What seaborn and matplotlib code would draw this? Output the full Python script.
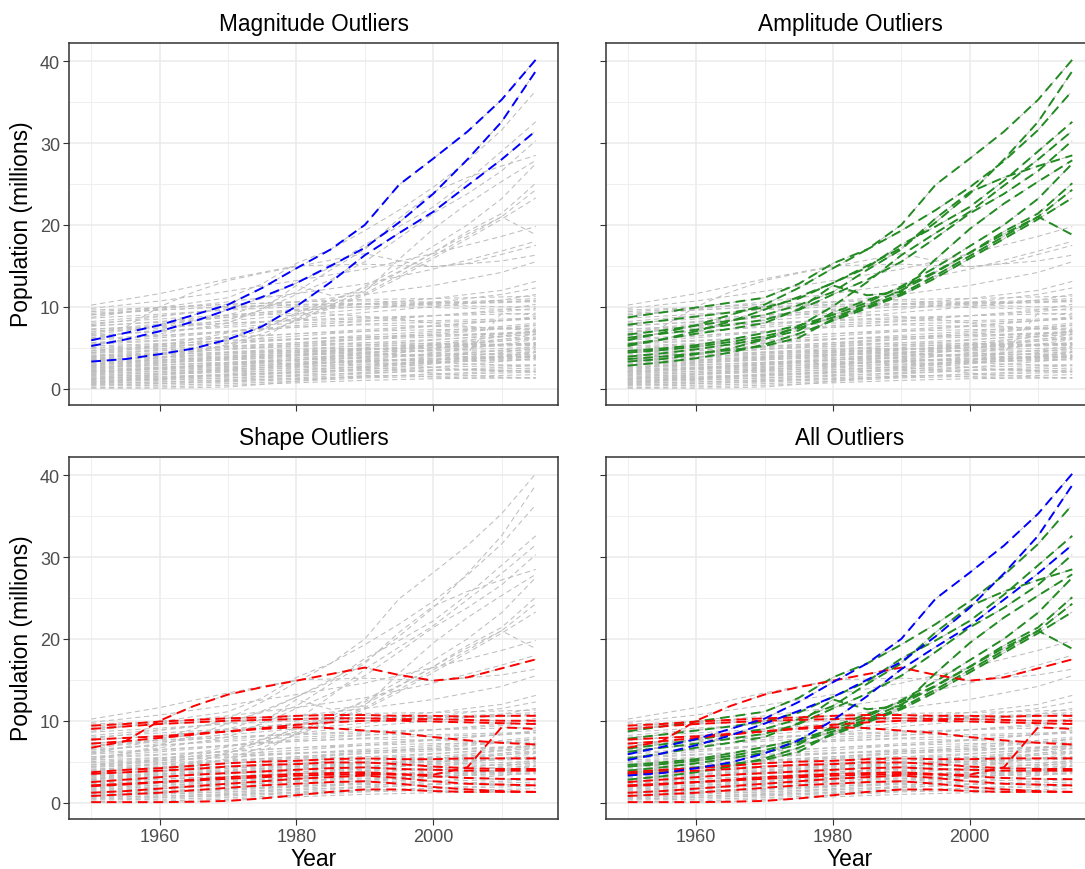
import matplotlib
matplotlib.use("Agg")
import matplotlib.pyplot as plt
from matplotlib.ticker import MultipleLocator, NullFormatter
import pandas as pd
import seaborn as sns

sns.set_theme(style="white")
plt.rcParams["font.family"] = ["Liberation Sans", "DejaVu Sans"]

# Sampling years: background series are stored at decade points,
# flagged series at five-year points.
coarse_years = [1950, 1960, 1970, 1980, 1990, 2000, 2010, 2015]
fine_years = [1950, 1955, 1960, 1965, 1970, 1975, 1980, 1985,
              1990, 1995, 2000, 2005, 2010, 2015]

# Population (millions) of series that are not flagged.
upper_grey = [
    [10.2, 11.6, 13.4, 15.0, 15.2, 14.9, 15.6, 16.3],
    [9.8, 10.7, 11.9, 13.2, 14.6, 16.5, 18.6, 19.8],
    [9.0, 9.7, 10.6, 11.6, 12.8, 14.6, 16.8, 18.0],
    [8.2, 8.9, 9.7, 10.6, 11.5, 12.6, 14.2, 15.5],
    [7.6, 8.2, 8.9, 9.7, 10.3, 11.0, 12.0, 13.1],
    [7.0, 7.6, 8.3, 9.0, 9.7, 10.5, 11.5, 12.3],
    [6.4, 7.0, 7.7, 8.5, 9.3, 10.0, 10.8, 11.5],
]
middle_grey = [
    [9.6, 9.9, 10.3, 10.6, 10.9, 11.0, 11.2, 11.3],
    [9.2, 9.6, 10.0, 10.3, 10.4, 10.5, 10.8, 11.0],
    [8.6, 9.1, 9.6, 10.0, 10.3, 10.4, 10.6, 10.8],
    [8.0, 8.5, 9.0, 9.6, 10.0, 10.3, 10.5, 10.7],
    [7.3, 7.6, 8.0, 8.3, 8.5, 8.9, 9.4, 9.8],
    [6.9, 7.4, 8.0, 8.4, 8.7, 8.9, 9.1, 9.2],
    [6.5, 7.0, 7.5, 8.0, 8.3, 8.3, 8.5, 8.6],
    [6.1, 6.5, 7.0, 7.5, 7.9, 8.1, 8.3, 8.5],
    [5.6, 6.2, 6.9, 7.5, 7.8, 7.6, 7.4, 7.2],
    [5.9, 6.4, 7.0, 7.7, 8.2, 8.9, 9.6, 10.3],
]
lower_grey = [
    [0.1, 0.2, 0.4, 0.7, 1.0, 1.2, 1.3, 1.3],
    [0.3, 0.4, 0.6, 0.9, 1.3, 1.5, 1.6, 1.7],
    [0.4, 0.6, 0.9, 1.3, 1.8, 2.2, 2.6, 2.8],
    [0.5, 0.6, 0.8, 1.1, 1.4, 1.8, 2.1, 2.3],
    [0.6, 0.8, 1.1, 1.5, 2.0, 2.6, 3.3, 3.7],
    [0.7, 0.8, 1.0, 1.2, 1.5, 1.7, 1.9, 2.0],
    [0.8, 1.0, 1.3, 1.7, 2.3, 3.0, 3.9, 4.4],
    [0.9, 1.1, 1.3, 1.6, 1.9, 2.2, 2.4, 2.5],
    [1.0, 1.2, 1.5, 1.9, 2.5, 3.2, 4.0, 4.5],
    [1.1, 1.3, 1.6, 2.0, 2.4, 2.6, 2.8, 2.9],
    [1.2, 1.4, 1.7, 2.1, 2.7, 3.4, 4.4, 5.0],
    [1.3, 1.5, 1.7, 2.0, 2.2, 2.3, 2.2, 2.1],
    [1.4, 1.7, 2.1, 2.6, 3.2, 3.9, 4.7, 5.2],
    [1.5, 1.7, 2.0, 2.3, 2.7, 3.1, 3.6, 3.9],
    [1.6, 1.9, 2.3, 2.8, 3.5, 4.3, 5.4, 6.0],
    [1.7, 1.9, 2.2, 2.5, 2.9, 3.2, 3.4, 3.5],
    [1.8, 2.1, 2.5, 3.1, 3.9, 4.8, 6.0, 6.6],
    [1.9, 2.1, 2.4, 2.7, 3.0, 3.3, 3.5, 3.6],
    [2.0, 2.3, 2.6, 3.0, 3.4, 3.7, 3.9, 4.0],
    [2.1, 2.4, 2.9, 3.5, 4.3, 5.3, 6.4, 7.0],
    [2.2, 2.4, 2.7, 3.0, 3.3, 3.5, 3.7, 3.8],
    [2.3, 2.6, 3.0, 3.5, 4.1, 4.7, 5.3, 5.6],
    [2.4, 2.6, 2.9, 3.1, 3.4, 3.6, 3.8, 3.9],
    [2.5, 2.8, 3.2, 3.7, 4.3, 5.0, 5.8, 6.2],
    [2.6, 2.9, 3.2, 3.5, 3.8, 4.0, 4.3, 4.5],
    [2.7, 2.9, 3.2, 3.5, 3.9, 4.2, 4.6, 4.8],
    [2.8, 3.1, 3.5, 4.0, 4.7, 5.4, 6.0, 6.3],
    [2.9, 3.2, 3.5, 3.8, 4.1, 4.2, 4.2, 4.1],
    [3.0, 3.3, 3.7, 4.2, 4.8, 5.3, 5.8, 6.1],
    [3.1, 3.4, 3.8, 4.2, 4.5, 4.6, 4.6, 4.6],
    [3.2, 3.5, 3.9, 4.4, 5.0, 5.6, 6.3, 6.7],
    [3.3, 3.5, 3.8, 4.1, 4.4, 4.7, 4.9, 5.0],
    [3.4, 3.7, 4.0, 4.4, 4.7, 5.0, 5.3, 5.5],
    [3.5, 3.8, 4.2, 4.7, 5.3, 5.9, 6.6, 7.0],
    [3.6, 3.9, 4.2, 4.5, 4.8, 5.1, 5.4, 5.6],
    [3.8, 4.1, 4.5, 4.9, 5.2, 5.3, 5.4, 5.4],
    [3.9, 4.3, 4.8, 5.4, 6.0, 6.6, 7.3, 7.7],
    [4.0, 4.2, 4.4, 4.6, 4.8, 5.0, 5.2, 5.3],
    [4.1, 4.4, 4.8, 5.2, 5.6, 6.0, 6.4, 6.6],
    [4.3, 4.6, 5.0, 5.4, 5.6, 5.5, 5.4, 5.3],
    [4.4, 4.7, 5.1, 5.6, 6.2, 6.8, 7.4, 7.8],
    [4.6, 4.9, 5.2, 5.6, 6.0, 6.3, 6.7, 6.9],
    [4.7, 5.1, 5.5, 6.0, 6.5, 7.0, 7.6, 8.0],
    [4.9, 5.2, 5.6, 6.0, 6.3, 6.5, 6.8, 7.0],
    [5.0, 5.4, 5.9, 6.4, 7.0, 7.6, 8.3, 8.8],
    [5.2, 5.5, 5.8, 6.1, 6.3, 6.5, 6.7, 6.8],
    [5.4, 5.8, 6.2, 6.7, 7.2, 7.7, 8.3, 8.6],
    [5.6, 5.9, 6.3, 6.7, 7.0, 7.2, 7.3, 7.4],
]

# Magnitude outliers (these are amplitude outliers as well).
magnitude_out = [
    [5.9, 6.8, 7.75, 9.0, 10.25, 12.3, 14.7, 17.0, 20.0, 24.9, 28.1, 31.4, 35.3, 40.2],
    [5.2, 6.0, 7.0, 8.2, 9.65, 11.2, 12.9, 15.0, 17.2, 20.3, 23.8, 28.0, 32.6, 38.8],
    [3.3, 3.6, 4.2, 4.9, 6.0, 7.6, 10.05, 13.0, 16.3, 19.0, 21.6, 24.8, 28.0, 31.5],
]
# Further amplitude outliers.
amplitude_out = [
    [8.7, 9.3, 9.9, 10.5, 11.1, 12.8, 15.3, 17.0, 19.3, 21.8, 24.6, 27.8, 31.6, 36.4],
    [7.8, 8.3, 8.8, 9.3, 9.9, 11.0, 12.9, 14.8, 17.6, 19.8, 22.2, 25.4, 29.0, 32.6],
    [6.6, 7.1, 7.7, 8.3, 9.0, 10.2, 11.8, 14.5, 17.0, 20.8, 24.0, 25.8, 27.2, 28.5],
    [6.2, 6.7, 7.2, 7.8, 8.4, 9.6, 11.5, 13.3, 15.5, 18.4, 21.4, 23.8, 26.6, 30.3],
    [5.4, 6.0, 6.7, 7.3, 8.0, 9.7, 12.6, 11.4, 11.8, 15.8, 19.5, 22.6, 25.3, 27.9],
    [4.6, 4.9, 5.3, 6.0, 6.8, 7.7, 9.0, 10.5, 12.5, 14.8, 17.4, 20.0, 23.2, 27.5],
    [4.4, 4.7, 5.1, 5.7, 6.4, 7.4, 8.7, 10.2, 12.0, 14.2, 16.6, 19.2, 21.4, 25.1],
    [3.6, 3.9, 4.3, 4.7, 5.2, 6.2, 8.5, 10.0, 11.6, 13.8, 16.2, 18.6, 21.0, 24.3],
    [2.8, 3.2, 3.7, 4.4, 5.4, 6.7, 8.3, 9.8, 11.4, 13.5, 15.9, 18.3, 20.7, 23.3],
    [3.9, 4.3, 4.8, 5.4, 6.1, 7.1, 9.3, 10.8, 12.3, 14.3, 16.6, 18.9, 21.0, 18.8],
]
# Shape outliers.
shape_out = [
    [6.7, 7.5, 10.0, 11.8, 13.2, 14.1, 14.9, 15.7, 16.5, 15.6, 14.9, 15.3, 16.4, 17.5],
    [9.4, 9.6, 9.9, 10.1, 10.3, 10.4, 10.6, 10.7, 10.7, 10.6, 10.6, 10.5, 10.6, 10.6],
    [9.0, 9.3, 9.6, 9.8, 10.0, 10.1, 10.2, 10.3, 10.3, 10.2, 10.2, 10.1, 10.0, 10.0],
    [7.7, 7.9, 8.1, 8.4, 8.7, 9.1, 9.5, 9.8, 10.0, 10.0, 9.9, 9.8, 9.7, 9.6],
    [7.2, 7.5, 7.9, 8.3, 8.7, 9.0, 9.2, 9.1, 8.8, 8.5, 8.0, 7.6, 7.3, 7.1],
    [3.7, 4.0, 4.2, 4.5, 4.8, 5.0, 5.1, 5.3, 5.4, 5.3, 5.3, 5.4, 5.4, 5.4],
    [3.5, 3.7, 3.9, 4.1, 4.4, 4.6, 4.7, 4.9, 4.9, 4.7, 4.4, 4.2, 4.1, 4.1],
    [2.5, 2.8, 3.1, 3.4, 3.6, 3.8, 4.0, 4.2, 4.3, 4.1, 4.0, 3.9, 3.9, 3.9],
    [2.0, 2.2, 2.5, 2.8, 3.1, 3.3, 3.5, 3.6, 3.7, 3.5, 3.2, 3.0, 2.9, 2.85],
    [1.2, 1.4, 1.7, 2.0, 2.3, 2.6, 2.9, 3.1, 3.3, 3.0, 2.6, 2.3, 2.2, 2.1],
    [0.8, 1.0, 1.2, 1.5, 1.8, 2.1, 2.3, 2.5, 2.6, 2.3, 1.9, 1.6, 1.4, 1.3],
    [0.05, 0.05, 0.05, 0.1, 0.2, 0.5, 0.9, 1.3, 1.6, 1.6, 1.4, 1.3, 1.3, 1.3],
    [2.1, 2.3, 2.5, 2.7, 2.9, 3.1, 3.3, 3.4, 3.5, 3.4, 3.4, 4.3, 9.2, 9.0],
]

# Long-format table: one row per series and year.
frames = []
sid = 0
for kind, years, block in [
    ("none", coarse_years, upper_grey),
    ("none", coarse_years, middle_grey),
    ("none", coarse_years, lower_grey),
    ("magnitude", fine_years, magnitude_out),
    ("amplitude", fine_years, amplitude_out),
    ("shape", fine_years, shape_out),
]:
    for vals in block:
        frames.append(pd.DataFrame({"series": sid, "year": years,
                                    "population": vals, "kind": kind}))
        sid += 1
df = pd.concat(frames, ignore_index=True)

GREY = "#BEBEBE"
GREY_STYLE = dict(linewidth=0.75, linestyle=(0, (5, 3.5)))
HL_STYLE = dict(linewidth=1.4, linestyle=(0, (5, 3)))

panels = [
    ("Magnitude Outliers", [("blue", ["magnitude"])]),
    ("Amplitude Outliers", [("forestgreen", ["magnitude", "amplitude"])]),
    ("Shape Outliers", [("red", ["shape"])]),
    ("All Outliers", [("forestgreen", ["amplitude"]), ("red", ["shape"]),
                      ("blue", ["magnitude"])]),
]

W, H = 1085, 870
fig = plt.figure(figsize=(W / 100, H / 100), dpi=100)
fig.patch.set_facecolor("white")

# Panel boxes in pixels: (left, top, width, height); the right column
# runs past the right edge of the canvas.
boxes = [(69, 43.5, 489, 362), (605.5, 43.5, 489, 362),
         (69, 457.5, 489, 362), (605.5, 457.5, 489, 362)]

for i, ((title, layers), (bx, by, bw, bh)) in enumerate(zip(panels, boxes)):
    ax = fig.add_axes([bx / W, (H - by - bh) / H, bw / W, bh / H])
    sns.lineplot(data=df, x="year", y="population", units="series",
                 estimator=None, color=GREY, ax=ax, legend=False,
                 sort=True, **GREY_STYLE)
    for color, kinds in layers:
        sub = df[df["kind"].isin(kinds)]
        sns.lineplot(data=sub, x="year", y="population", units="series",
                     estimator=None, color=color, ax=ax, legend=False,
                     sort=True, **HL_STYLE)

    ax.set_xlim(1946.75, 2018.25)
    ax.set_ylim(-1.95, 42.3)
    ax.xaxis.set_major_locator(MultipleLocator(20))
    ax.xaxis.set_minor_locator(MultipleLocator(10))
    ax.yaxis.set_major_locator(MultipleLocator(10))
    ax.yaxis.set_minor_locator(MultipleLocator(5))
    ax.set_axisbelow(True)
    ax.grid(which="major", color="#EBEBEB", linewidth=1.1)
    ax.grid(which="minor", color="#EBEBEB", linewidth=0.55)
    for sp in ax.spines.values():
        sp.set_color("#333333")
        sp.set_linewidth(1.1)
    ax.tick_params(which="major", direction="out", length=4, width=0.8,
                   color="#333333", labelcolor="#4D4D4D", labelsize=13,
                   pad=2.5, bottom=True, left=True)
    ax.tick_params(which="minor", length=0)
    ax.set_title(title, fontsize=16.3, color="black", pad=9)

    row, col = divmod(i, 2)
    if row == 1:
        ax.set_xlabel("Year", fontsize=16.5, color="black", labelpad=2)
    else:
        ax.set_xlabel("")
        ax.xaxis.set_major_formatter(NullFormatter())
    if col == 0:
        ax.set_ylabel("Population (millions)", fontsize=16.5, color="black",
                      labelpad=5)
    else:
        ax.set_ylabel("")
        ax.yaxis.set_major_formatter(NullFormatter())

fig.savefig("out.png", dpi=100, facecolor="white")
